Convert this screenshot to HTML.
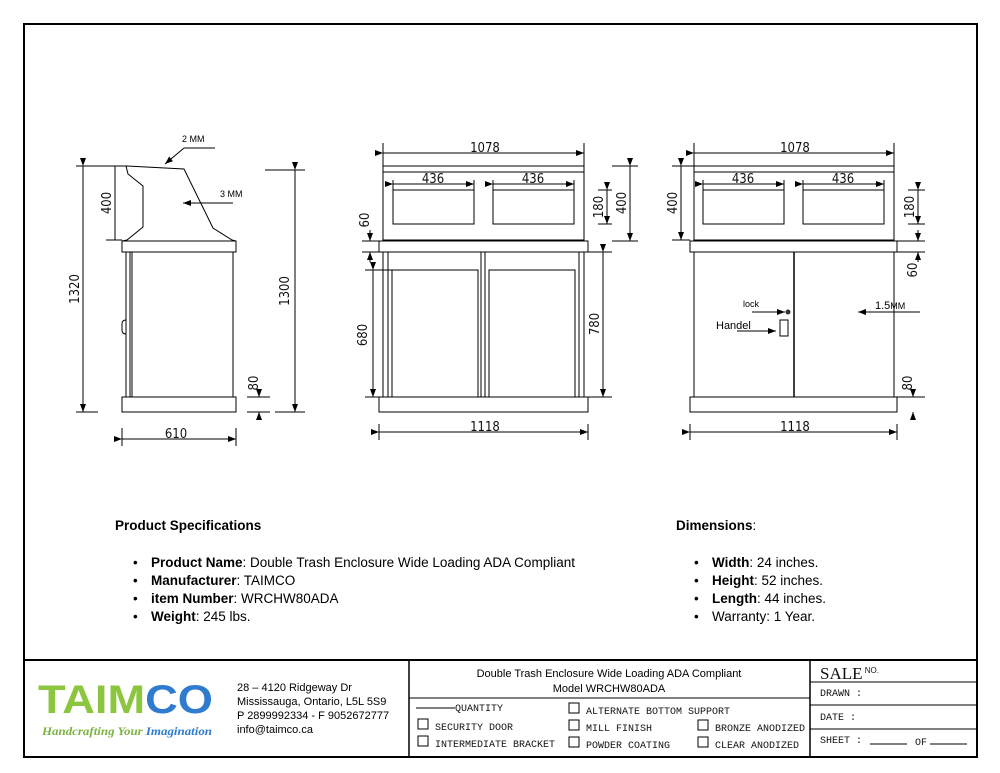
<!DOCTYPE html>
<html><head><meta charset="utf-8"><style>
body{margin:0;background:#fff}
svg{display:block}
.d{font-family:"DejaVu Sans Condensed","Liberation Sans",sans-serif;font-size:13px;fill:#111}
.s{font-family:"Liberation Sans",sans-serif;fill:#000}
.m{font-family:"Liberation Mono",monospace;font-size:10px;fill:#111}
</style></head><body>
<svg width="1000" height="773" viewBox="0 0 1000 773" xmlns="http://www.w3.org/2000/svg">
<defs><marker id="a" markerWidth="8" markerHeight="6" refX="8" refY="3" orient="auto"><path d="M0,0L8,3L0,6z" fill="#000"/></marker></defs>
<rect x="24" y="24" width="953" height="733" fill="none" stroke="#000" stroke-width="2"/>
<g fill="none" stroke="#000" stroke-width="1">
<!-- side view -->
<path d="M126,166L184,169L213,228L232,240L236,241H122L127,240L143,227V186L128,174Z"/>
<rect x="122" y="241" width="114" height="11"/>
<rect x="126" y="252" width="107" height="145"/>
<line x1="130" y1="252" x2="130" y2="397"/><line x1="132" y1="252" x2="132" y2="397"/>
<path d="M126,320q-4,0 -4,4v6q0,4 4,4"/>
<rect x="122" y="397" width="114" height="15"/>
<line x1="83" y1="166" x2="83" y2="412" marker-start="url(#a)" marker-end="url(#a)"/>
<line x1="76" y1="166" x2="126" y2="166"/><line x1="76" y1="412" x2="98" y2="412"/>
<line x1="115" y1="166" x2="115" y2="240"/><line x1="106" y1="240" x2="122" y2="240"/>
<line x1="295" y1="170" x2="295" y2="412" marker-start="url(#a)" marker-end="url(#a)"/>
<line x1="265" y1="170" x2="305" y2="170"/><line x1="275" y1="412" x2="305" y2="412"/>
<line x1="259" y1="390" x2="259" y2="397" marker-end="url(#a)"/><line x1="259" y1="420" x2="259" y2="412" marker-end="url(#a)"/>
<line x1="247" y1="397" x2="270" y2="397"/><line x1="247" y1="412" x2="270" y2="412"/>
<line x1="122" y1="439" x2="236" y2="439" marker-start="url(#a)" marker-end="url(#a)"/>
<line x1="122" y1="428" x2="122" y2="446"/><line x1="236" y1="428" x2="236" y2="446"/>
<line x1="215" y1="148" x2="184" y2="148"/><line x1="184" y1="148" x2="165" y2="164" marker-end="url(#a)"/>
<line x1="233" y1="203" x2="183" y2="203" marker-end="url(#a)"/>
<!-- front view -->
<rect x="383" y="166" width="201" height="74"/><line x1="383" y1="172" x2="584" y2="172"/>
<rect x="393" y="190" width="81" height="34"/><rect x="493" y="190" width="81" height="34"/>
<rect x="379" y="241" width="209" height="11"/>
<rect x="383" y="252" width="201" height="145"/>
<line x1="388" y1="252" x2="388" y2="397"/><line x1="579" y1="252" x2="579" y2="397"/>
<line x1="481" y1="252" x2="481" y2="397"/><line x1="485" y1="252" x2="485" y2="397"/>
<rect x="392" y="270" width="86" height="127"/><rect x="489" y="270" width="86" height="127"/>
<rect x="379" y="397" width="209" height="15"/>
<line x1="383" y1="153" x2="584" y2="153" marker-start="url(#a)" marker-end="url(#a)"/>
<line x1="383" y1="143" x2="383" y2="166"/><line x1="584" y1="143" x2="584" y2="166"/>
<line x1="393" y1="184" x2="474" y2="184" marker-start="url(#a)" marker-end="url(#a)"/>
<line x1="493" y1="184" x2="574" y2="184" marker-start="url(#a)" marker-end="url(#a)"/>
<line x1="393" y1="180" x2="393" y2="190"/><line x1="474" y1="180" x2="474" y2="190"/>
<line x1="493" y1="180" x2="493" y2="190"/><line x1="574" y1="180" x2="574" y2="190"/>
<line x1="379" y1="432" x2="588" y2="432" marker-start="url(#a)" marker-end="url(#a)"/>
<line x1="379" y1="424" x2="379" y2="440"/><line x1="588" y1="424" x2="588" y2="440"/>
<line x1="603" y1="252" x2="603" y2="397" marker-start="url(#a)" marker-end="url(#a)"/>
<line x1="588" y1="252" x2="612" y2="252"/><line x1="588" y1="397" x2="612" y2="397"/>
<line x1="373" y1="270" x2="373" y2="397" marker-start="url(#a)" marker-end="url(#a)"/>
<line x1="365" y1="270" x2="392" y2="270"/><line x1="365" y1="397" x2="379" y2="397"/>
<line x1="370" y1="230" x2="370" y2="241" marker-end="url(#a)"/><line x1="370" y1="262" x2="370" y2="252" marker-end="url(#a)"/>
<line x1="362" y1="241" x2="379" y2="241"/><line x1="362" y1="252" x2="379" y2="252"/>
<line x1="607" y1="190" x2="607" y2="224" marker-start="url(#a)" marker-end="url(#a)"/>
<line x1="598" y1="190" x2="612" y2="190"/><line x1="598" y1="224" x2="612" y2="224"/>
<line x1="630" y1="166" x2="630" y2="241" marker-start="url(#a)" marker-end="url(#a)"/>
<line x1="612" y1="166" x2="638" y2="166"/><line x1="612" y1="241" x2="638" y2="241"/>
<!-- right view -->
<rect x="694" y="166" width="200" height="74"/><line x1="694" y1="172" x2="894" y2="172"/>
<rect x="703" y="190" width="81" height="34"/><rect x="803" y="190" width="81" height="34"/>
<rect x="690" y="241" width="207" height="11"/>
<rect x="694" y="252" width="200" height="145"/>
<line x1="794" y1="252" x2="794" y2="397" stroke-width="1.5"/>
<rect x="690" y="397" width="207" height="15"/>
<rect x="780" y="320" width="8" height="16"/>
<line x1="694" y1="153" x2="894" y2="153" marker-start="url(#a)" marker-end="url(#a)"/>
<line x1="694" y1="143" x2="694" y2="166"/><line x1="894" y1="143" x2="894" y2="166"/>
<line x1="703" y1="184" x2="784" y2="184" marker-start="url(#a)" marker-end="url(#a)"/>
<line x1="803" y1="184" x2="884" y2="184" marker-start="url(#a)" marker-end="url(#a)"/>
<line x1="703" y1="180" x2="703" y2="190"/><line x1="784" y1="180" x2="784" y2="190"/>
<line x1="803" y1="180" x2="803" y2="190"/><line x1="884" y1="180" x2="884" y2="190"/>
<line x1="690" y1="432" x2="897" y2="432" marker-start="url(#a)" marker-end="url(#a)"/>
<line x1="690" y1="424" x2="690" y2="440"/><line x1="897" y1="424" x2="897" y2="440"/>
<line x1="681" y1="166" x2="681" y2="240" marker-start="url(#a)" marker-end="url(#a)"/>
<line x1="672" y1="166" x2="694" y2="166"/><line x1="672" y1="240" x2="690" y2="240"/>
<line x1="918" y1="190" x2="918" y2="224" marker-start="url(#a)" marker-end="url(#a)"/>
<line x1="908" y1="190" x2="925" y2="190"/><line x1="908" y1="224" x2="925" y2="224"/>
<line x1="918" y1="230" x2="918" y2="241" marker-end="url(#a)"/><line x1="918" y1="262" x2="918" y2="252" marker-end="url(#a)"/>
<line x1="897" y1="241" x2="925" y2="241"/><line x1="897" y1="252" x2="925" y2="252"/>
<line x1="913" y1="390" x2="913" y2="397" marker-end="url(#a)"/><line x1="913" y1="420" x2="913" y2="412" marker-end="url(#a)"/>
<line x1="897" y1="397" x2="925" y2="397"/>
<line x1="752" y1="312" x2="785" y2="312" marker-end="url(#a)"/>
<line x1="737" y1="331" x2="776" y2="331" marker-end="url(#a)"/>
<line x1="920" y1="312" x2="858" y2="312" marker-end="url(#a)"/>
<!-- title block -->
<line x1="24" y1="660" x2="977" y2="660" stroke-width="2"/>
<line x1="409" y1="660" x2="409" y2="757" stroke-width="1.5"/>
<line x1="810" y1="660" x2="810" y2="757" stroke-width="1.5"/>
<line x1="409" y1="698" x2="810" y2="698"/>
<line x1="810" y1="682" x2="977" y2="682"/><line x1="810" y1="705" x2="977" y2="705"/><line x1="810" y1="729" x2="977" y2="729"/>
<line x1="416" y1="708" x2="455" y2="708"/>
<line x1="870" y1="744" x2="907" y2="744"/><line x1="930" y1="744" x2="967" y2="744"/>
<rect x="418" y="719" width="10" height="10"/><rect x="418" y="736" width="10" height="10"/>
<rect x="569" y="703" width="10" height="10"/><rect x="569" y="720" width="10" height="10"/><rect x="569" y="737" width="10" height="10"/>
<rect x="698" y="720" width="10" height="10"/><rect x="698" y="737" width="10" height="10"/>
</g>
<circle cx="788" cy="312" r="2.5" fill="#333"/>
<g class="d">
<text x="176" y="438" text-anchor="middle">610</text>
<text x="485" y="152" text-anchor="middle">1078</text>
<text x="433" y="183" text-anchor="middle">436</text>
<text x="533" y="183" text-anchor="middle">436</text>
<text x="485" y="431" text-anchor="middle">1118</text>
<text x="795" y="152" text-anchor="middle">1078</text>
<text x="743" y="183" text-anchor="middle">436</text>
<text x="843" y="183" text-anchor="middle">436</text>
<text x="795" y="431" text-anchor="middle">1118</text>
<text transform="translate(83,289) rotate(-90)" text-anchor="middle" dy="-4">1320</text>
<text transform="translate(113,203) rotate(-90)" text-anchor="middle" dy="-2">400</text>
<text transform="translate(293,291) rotate(-90)" text-anchor="middle" dy="-4">1300</text>
<text transform="translate(258,383) rotate(-90)" text-anchor="middle">80</text>
<text transform="translate(370,335) rotate(-90)" text-anchor="middle" dy="-3">680</text>
<text transform="translate(369,220) rotate(-90)" text-anchor="middle">60</text>
<text transform="translate(602,324) rotate(-90)" text-anchor="middle" dy="-3">780</text>
<text transform="translate(605,207) rotate(-90)" text-anchor="middle" dy="-2">180</text>
<text transform="translate(628,203) rotate(-90)" text-anchor="middle" dy="-2">400</text>
<text transform="translate(680,203) rotate(-90)" text-anchor="middle" dy="-3">400</text>
<text transform="translate(916,207) rotate(-90)" text-anchor="middle" dy="-2">180</text>
<text transform="translate(917,270) rotate(-90)" text-anchor="middle">60</text>
<text transform="translate(912,383) rotate(-90)" text-anchor="middle">80</text>
</g>
<g class="s" font-size="9"><text x="182" y="142">2 MM</text><text x="220" y="197">3 MM</text><text x="743" y="307">lock</text></g>
<text class="s" x="716" y="329" font-size="11">Handel</text>
<text class="s" x="875" y="309" font-size="11">1.5<tspan font-size="9">MM</tspan></text>
<g class="s" font-size="13.5">
<text x="115" y="530" font-weight="bold">Product Specifications</text>
<text x="133" y="567">•</text><text x="151" y="567"><tspan font-weight="bold">Product Name</tspan>: Double Trash Enclosure Wide Loading ADA Compliant</text>
<text x="133" y="585">•</text><text x="151" y="585"><tspan font-weight="bold">Manufacturer</tspan>: TAIMCO</text>
<text x="133" y="603">•</text><text x="151" y="603"><tspan font-weight="bold">item Number</tspan>: WRCHW80ADA</text>
<text x="133" y="621">•</text><text x="151" y="621"><tspan font-weight="bold">Weight</tspan>: 245 lbs.</text>
<text x="676" y="530" font-weight="bold">Dimensions<tspan font-weight="normal">:</tspan></text>
<text x="694" y="567">•</text><text x="712" y="567"><tspan font-weight="bold">Width</tspan>: 24 inches.</text>
<text x="694" y="585">•</text><text x="712" y="585"><tspan font-weight="bold">Height</tspan>: 52 inches.</text>
<text x="694" y="603">•</text><text x="712" y="603"><tspan font-weight="bold">Length</tspan>: 44 inches.</text>
<text x="694" y="621">•</text><text x="712" y="621">Warranty: 1 Year.</text>
</g>
<text x="38" y="713" font-family="Liberation Sans,sans-serif" font-weight="bold" font-size="40" textLength="175" lengthAdjust="spacingAndGlyphs"><tspan fill="#8cc63f">TAIM</tspan><tspan fill="#2f7ccf">CO</tspan></text>
<text x="42" y="735" font-family="Liberation Serif,serif" font-style="italic" font-weight="bold" font-size="12" textLength="170" lengthAdjust="spacingAndGlyphs"><tspan fill="#7cb342">Handcrafting Your </tspan><tspan fill="#2f7ccf">Imagination</tspan></text>
<g class="s" font-size="11">
<text x="237" y="691">28 – 4120 Ridgeway Dr</text>
<text x="237" y="705">Mississauga, Ontario, L5L 5S9</text>
<text x="237" y="719">P 2899992334 - F 9052672777</text>
<text x="237" y="733">info@taimco.ca</text>
<text x="609" y="677" text-anchor="middle">Double Trash Enclosure Wide Loading ADA Compliant</text>
<text x="609" y="692" text-anchor="middle">Model WRCHW80ADA</text>
</g>
<g class="m">
<text x="455" y="711">QUANTITY</text>
<text x="435" y="730">SECURITY DOOR</text>
<text x="435" y="747">INTERMEDIATE BRACKET</text>
<text x="586" y="714">ALTERNATE BOTTOM SUPPORT</text>
<text x="586" y="731">MILL FINISH</text>
<text x="586" y="748">POWDER COATING</text>
<text x="715" y="731">BRONZE ANODIZED</text>
<text x="715" y="748">CLEAR ANODIZED</text>
<text x="820" y="696">DRAWN :</text>
<text x="820" y="720">DATE :</text>
<text x="820" y="743">SHEET :</text>
<text x="915" y="745">OF</text>
</g>
<text x="820" y="679" font-family="Liberation Serif,serif" font-size="17" fill="#111">SALE<tspan font-size="8" font-family="Liberation Sans,sans-serif" dy="-6"> NO.</tspan></text>
</svg>
</body></html>
